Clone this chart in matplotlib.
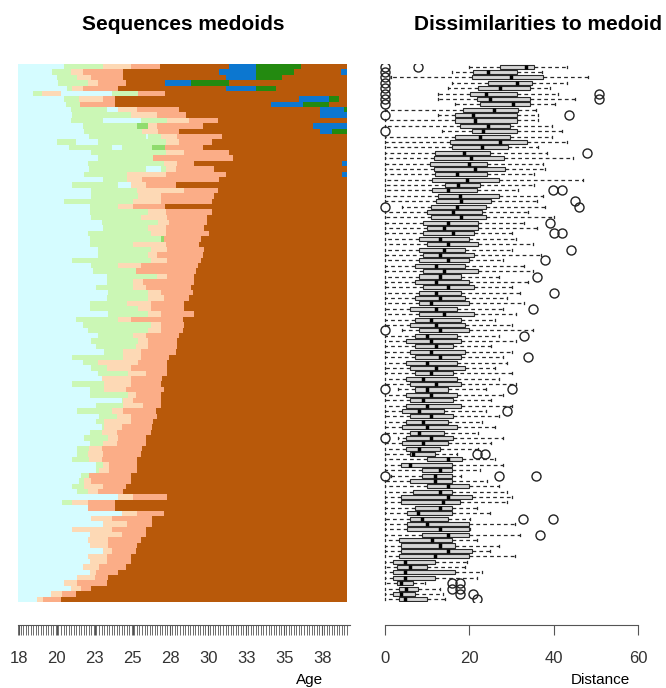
import matplotlib
matplotlib.use("Agg")
import matplotlib.pyplot as plt

plt.rcParams['font.family'] = ['Liberation Sans', 'DejaVu Sans']

STATE_COLORS = {
    "C": "#d5fcff",  # light cyan
    "G": "#cbf7b5",  # light green
    "M": "#90dc6e",  # mid green
    "P": "#fdd9b5",  # pale peach
    "S": "#fbad87",  # salmon
    "B": "#b8590a",  # brown
    "U": "#0c77d0",  # blue
    "N": "#238a10",  # green
}

SEQ_LEN = 260
AGE_TICKS = [0, 30, 60, 90, 120, 150, 180, 210, 240]
AGE_LABELS = ["18", "20", "23", "25", "28", "30", "33", "35", "38"]

# one medoid per row: state letter + month (from age 18) where the spell ends
MEDOIDS = [
    "C36 G67 P89 S112 B167 U188 N224 B260",
    "C27 G42 P51 S83 B159 U188 N218 B255 U260",
    "C31 G47 P58 S83 B164 U188 N209 B260",
    "C32 G55 P63 S85 B116 U137 N167 B260",
    "C39 G43 P51 S79 B164 U188 N204 B260",
    "C12 G19 P34 C74 G95 S116 B260",
    "C36 G48 P67 S77 B222 U246 N254 B260",
    "C38 G49 S77 B200 U225 N246 B260",
    "C42 G70 C79 P94 S127 B239 U258 N260",
    "C43 G89 P110 S133 B239 U260",
    "C42 G67 C97 G118 P135 S158 B260",
    "C51 G94 M103 P110 S146 B233 U260",
    "C52 G98 P111 S127 B239 U248 N260",
    "C56 G101 C103 G113 P126 S161 B260",
    "C31 G46 C63 G117 P127 S153 B260",
    "C40 G74 C82 G106 M116 S146 B260",
    "C58 G117 P131 S167 B260",
    "C63 G107 S170 B260",
    "C55 G115 P126 S139 B256 U260",
    "C56 G101 C113 G117 P125 S155 B260",
    "C52 G86 P117 S164 B256 U260",
    "C67 G86 P98 S159 B260",
    "C43 G79 C89 P101 S125 B260",
    "C58 G94 P131 S158 B260",
    "C58 G95 P113 S155 B260",
    "C36 G91 P113 S153 B260",
    "C57 G79 P91 S116 B260",
    "C57 G103 P117 S153 B260",
    "C58 G97 P118 S149 B260",
    "C66 G111 P119 S149 B260",
    "C67 G103 P117 S147 B260",
    "C55 G105 P117 S151 B260",
    "C57 G113 M115 S145 B260",
    "C57 G91 P117 S143 B260",
    "C63 G105 P118 S147 B260",
    "C63 G103 P110 S146 B260",
    "C43 G105 P118 S145 B260",
    "C58 G79 P97 S142 B260",
    "C59 G93 S141 B260",
    "C70 G110 P118 S139 B260",
    "C70 G91 P99 S139 B260",
    "C62 G91 P101 S137 B260",
    "C71 G103 P113 S138 B260",
    "C70 G103 P115 S135 B260",
    "C57 G86 P105 S131 B260",
    "C57 G95 P105 S131 B260",
    "C71 G103 P113 S139 B260",
    "C46 G79 P89 S130 B260",
    "C51 G105 P113 S131 B260",
    "C55 G103 P113 S130 B260",
    "C63 G91 P101 S127 B260",
    "C58 G95 P103 S126 B260",
    "C62 G93 P103 S126 B260",
    "C68 G83 P97 S125 B260",
    "C43 G83 P97 S119 B260",
    "C51 G63 P95 S118 B260",
    "C58 G70 P89 S118 B260",
    "C63 G87 P101 S118 B260",
    "C66 P89 S114 B260",
    "C43 G68 P89 S113 B260",
    "C57 G68 P85 S115 B260",
    "C57 G87 P93 S113 B260",
    "C82 G83 P91 S113 B260",
    "C62 G83 P99 S113 B260",
    "C47 G74 P83 S109 B260",
    "C64 G78 P89 S110 B260",
    "C62 G68 P89 S107 B260",
    "C66 G68 P82 S106 B260",
    "C57 G66 P78 S105 B260",
    "C52 G71 P79 S101 B260",
    "C57 G67 P78 S101 B260",
    "C47 G56 P66 S98 B260",
    "C47 G55 P67 S97 B260",
    "C43 G56 P66 S94 B260",
    "C62 G67 P72 S94 B260",
    "C62 G64 P72 S94 B260",
    "C50 G56 S89 B260",
    "C48 G52 P58 S89 B260",
    "C43 G52 P67 S85 B260",
    "C47 G55 P63 S83 B260",
    "C79 P91 S118 B260",
    "C35 G43 P55 S77 B260",
    "C55 S77 B260",
    "C82 P94 S115 B260",
    "C58 P74 S106 B260",
    "C67 P86 S106 B260",
    "C43 P74 S101 B260",
    "C57 P82 S101 B260",
    "C55 P71 S97 B260",
    "C57 P71 S94 B260",
    "C67 P74 S93 B260",
    "C55 P70 S89 B260",
    "C57 P70 S89 B260",
    "C51 P64 S85 B260",
    "C57 P62 S79 B260",
    "C47 P61 S71 B260",
    "C36 P47 S70 B260",
    "C42 P50 S58 B260",
    "C26 P35 S46 B260",
    "C15 P20 S34 B260",
]

# dissimilarities to medoid, one box per row: whisker low, q1, median, q3, whisker high, outliers
DISS = [
    (19.8, 27.3, 33.3, 35.2, 43.1, [0, 7.9]),
    (15.8, 20.9, 24.3, 31.2, 37.1, [0]),
    (1.5, 20.5, 29.9, 37.5, 48.2, [0]),
    (15.8, 24.5, 31.2, 34.8, 43.1, [0]),
    (15.0, 22.1, 27.3, 34.4, 39.1, [0]),
    (12.6, 20.2, 23.9, 31.2, 41.1, [0, 50.8]),
    (12.6, 21.7, 24.9, 34.4, 45.0, [0, 50.8]),
    (16.6, 22.5, 30.4, 34.4, 40.3, [0]),
    (0, 18.6, 25.8, 31.6, 35.9, []),
    (12.6, 16.6, 20.9, 31.2, 36.3, [0, 43.7]),
    (0, 16.6, 21.3, 31.2, 36.3, []),
    (0, 17.8, 24.3, 29.6, 39.5, []),
    (13.4, 20.5, 23.3, 31.2, 41.9, [0]),
    (0, 16.6, 22.5, 29.6, 39.5, []),
    (0, 15.4, 27.3, 33.6, 43.1, []),
    (0, 15.8, 22.9, 29.2, 36.3, []),
    (0, 11.9, 18.7, 24.9, 38.3, [47.8]),
    (0, 11.5, 20.3, 28.1, 44.6, []),
    (0, 10.7, 20.0, 24.1, 37.5, []),
    (0, 11.5, 21.3, 28.4, 37.9, []),
    (0, 11.9, 17.0, 24.1, 35.2, []),
    (0, 11.1, 19.4, 26.9, 47.0, []),
    (0, 14.2, 17.4, 22.5, 35.2, []),
    (0, 11.1, 15.0, 21.7, 31.6, [39.7, 41.9]),
    (0, 12.6, 17.8, 26.9, 37.5, []),
    (0, 12, 18, 25, 36, [45]),
    (4, 11, 17, 24, 38, [0, 46]),
    (0, 10, 16, 23, 34, []),
    (0, 11, 18, 24, 40, []),
    (0, 9, 15, 22, 33, [39]),
    (0, 10, 14, 22, 36, []),
    (0, 9, 16, 21, 30, [40, 42]),
    (0, 8, 13, 20, 31, []),
    (0, 10, 15, 22, 35, []),
    (0, 8, 14, 19, 30, [44]),
    (0, 9, 13, 21, 37, []),
    (0, 8, 15, 20, 28, [38]),
    (0, 7, 12, 19, 33, []),
    (0, 9, 14, 22, 35, []),
    (0, 8, 13, 18, 27, [36]),
    (0, 7, 12, 20, 34, []),
    (0, 9, 15, 21, 30, []),
    (0, 8, 12, 18, 32, [40]),
    (0, 7, 13, 19, 29, []),
    (0, 8, 11, 20, 33, []),
    (0, 6, 12, 17, 28, [35]),
    (0, 8, 14, 21, 31, []),
    (0, 7, 11, 18, 26, []),
    (0, 6, 12, 19, 30, []),
    (4, 8, 13, 20, 35, [0]),
    (0, 7, 10, 17, 27, [33]),
    (0, 5, 11, 18, 31, []),
    (0, 7, 12, 16, 25, []),
    (0, 6, 11, 19, 30, []),
    (0, 7, 13, 18, 28, [34]),
    (0, 5, 10, 17, 29, []),
    (0, 6, 12, 19, 26, []),
    (0, 7, 11, 16, 30, []),
    (0, 5, 9, 17, 27, []),
    (0, 6, 12, 18, 31, []),
    (3, 7, 10, 15, 24, [0, 30]),
    (0, 5, 11, 17, 28, []),
    (0, 6, 9, 16, 25, []),
    (0, 5, 10, 18, 30, []),
    (0, 4, 8, 14, 24, [29]),
    (0, 6, 11, 16, 27, []),
    (0, 5, 9, 15, 23, []),
    (0, 4, 10, 17, 26, []),
    (0, 6, 8, 14, 22, []),
    (3, 5, 11, 16, 28, [0]),
    (0, 4, 9, 15, 25, []),
    (0, 5, 8, 13, 22, []),
    (0, 5.9, 6.7, 11.9, 17.0, [21.7, 23.7]),
    (0, 10.0, 14.9, 18.2, 26.1, []),
    (0, 3.9, 5.9, 15.8, 28.0, []),
    (0, 8.7, 13.0, 15.8, 22.5, []),
    (1.5, 8.7, 11.9, 15.8, 18.0, [0, 26.9, 35.9]),
    (0, 5.9, 11.9, 15.8, 24.1, []),
    (0, 9.9, 15.0, 19.8, 26.9, []),
    (0, 6.7, 13.0, 15.8, 28.8, []),
    (0, 3.9, 14.9, 20.5, 30.0, []),
    (0, 3.9, 13.8, 17.8, 28.8, []),
    (0, 7.1, 13.0, 15.8, 21.7, []),
    (0, 5.1, 7.9, 15.8, 24.9, []),
    (0, 5.9, 8.7, 15.0, 20.1, [32.8, 39.7]),
    (0, 5.1, 9.9, 19.8, 30.8, []),
    (0, 5.1, 13.0, 19.8, 20.1, []),
    (0, 8.7, 15.0, 19.8, 32.0, [36.7]),
    (0, 3.2, 11.1, 15.8, 21.7, []),
    (0, 3.9, 13.0, 16.6, 26.9, []),
    (0, 3.9, 15.0, 20.5, 24.9, []),
    (0, 3.2, 11.9, 19.8, 30.8, []),
    (0, 2.0, 4.7, 11.9, 19.4, []),
    (0, 2.8, 5.9, 9.9, 18.9, []),
    (0, 2.0, 4.7, 16.6, 22.9, []),
    (0, 2.0, 4.7, 11.9, 21.7, []),
    (0, 2.8, 3.9, 6.7, 9.5, [15.8, 17.8]),
    (0, 3.2, 5.0, 7.9, 13.0, [15.8, 17.8]),
    (0, 2.0, 3.9, 7.1, 13.8, [17.8, 20.9]),
    (0, 3.2, 4.7, 9.9, 14.2, [21.7]),
]

DIST_TICKS = [0, 20, 40, 60]

W, H = 666, 688
fig = plt.figure(figsize=(W / 100, H / 100), dpi=100)


def px_box(x0, y0, x1, y1):
    return [x0 / W, 1 - y1 / H, (x1 - x0) / W, (y1 - y0) / H]


ax1 = fig.add_axes(px_box(18, 64, 347, 602))
ax2 = fig.add_axes(px_box(370, 64, 660, 602))

# sequence index plot of the medoids
for k, row in enumerate(MEDOIDS):
    start = 0
    for spell in row.split():
        state, end = spell[0], int(spell[1:])
        ax1.barh(k + 0.5, end - start, left=start, height=1.0,
                 color=STATE_COLORS[state], linewidth=0)
        start = end
ax1.set_xlim(0, SEQ_LEN)
ax1.set_ylim(len(MEDOIDS), 0)

axis_col = "#555555"
for ax in (ax1, ax2):
    for s in ("top", "left", "right"):
        ax.spines[s].set_visible(False)
    ax.spines["bottom"].set_position(("outward", 16.5))
    ax.spines["bottom"].set_color(axis_col)
    ax.set_yticks([])
    ax.tick_params(axis="x", which="both", direction="out", length=7,
                   color=axis_col, labelsize=12, labelcolor="#333333", pad=12)

ax1.spines["bottom"].set_bounds(0, SEQ_LEN + 2)
ax1.set_xticks([t + 0.5 for t in AGE_TICKS])
ax1.set_xticklabels(AGE_LABELS)
ax1.set_xticks(range(0, SEQ_LEN + 1, 2), minor=True)

# boxplots of distances to each medoid
stats = []
for lo, q1, med, q3, hi, out in DISS:
    stats.append(dict(whislo=lo, q1=q1, med=med, q3=q3, whishi=hi, fliers=out))
ax2.bxp(stats, positions=[k + 0.5 for k in range(len(stats))], widths=0.75,
        vert=False, patch_artist=True,
        boxprops=dict(facecolor="#d6d6d6", edgecolor="#2a2a2a", linewidth=0.8),
        medianprops=dict(color="black", linewidth=2.5),
        whiskerprops=dict(color="#2a2a2a", linestyle=(0, (3, 2.5)), linewidth=0.9),
        capprops=dict(color="#2a2a2a", linewidth=0.9),
        flierprops=dict(marker="o", markerfacecolor="none", markeredgecolor="#222222",
                        markersize=6.5, markeredgewidth=1.0))
ax2.set_xlim((370 - 385) / 4.22, (660 - 385) / 4.22)
ax2.set_ylim(len(DISS), 0)
ax2.spines["bottom"].set_bounds(0, 60)
ax2.set_xticks(DIST_TICKS)
ax2.set_yticks([])

fig.text(183 / W, 1 - 24 / H, "Sequences medoids", ha="center", va="center",
         fontsize=15, fontweight="bold")
fig.text(538 / W, 1 - 24 / H, "Dissimilarities to medoid", ha="center", va="center",
         fontsize=15, fontweight="bold")
fig.text(310 / W, 1 - 680 / H, "Age", ha="center", va="center", fontsize=11)
fig.text(600 / W, 1 - 680 / H, "Distance", ha="center", va="center", fontsize=11)

fig.savefig("out.png", dpi=100)
